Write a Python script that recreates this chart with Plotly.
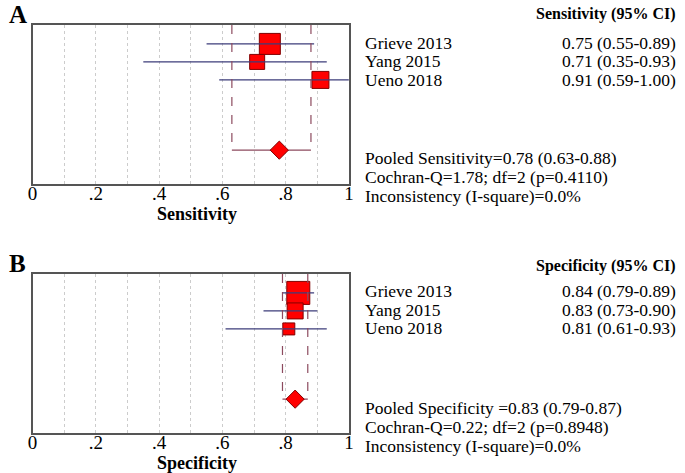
import plotly.graph_objects as go

W, H = 685, 473

studies = ["Grieve 2013", "Yang 2015", "Ueno 2018"]
rows = [1, 2, 3]
pooled_row = 6.9

sens = [0.75, 0.71, 0.91]
sens_lo = [0.55, 0.35, 0.59]
sens_hi = [0.89, 0.93, 1.00]
sens_size = [21, 15, 17]
sens_pool = [0.78, 0.63, 0.88]
sens_txt = ["0.75 (0.55-0.89)", "0.71 (0.35-0.93)", "0.91 (0.59-1.00)"]
sens_stats = ["Pooled Sensitivity=0.78 (0.63-0.88)",
              "Cochran-Q=1.78; df=2 (p=0.4110)",
              "Inconsistency (I-square)=0.0%"]

spec = [0.84, 0.83, 0.81]
spec_lo = [0.79, 0.73, 0.61]
spec_hi = [0.89, 0.90, 0.93]
spec_size = [23, 16, 12]
spec_pool = [0.83, 0.79, 0.87]
spec_txt = ["0.84 (0.79-0.89)", "0.83 (0.73-0.90)", "0.81 (0.61-0.93)"]
spec_stats = ["Pooled Specificity =0.83 (0.79-0.87)",
              "Cochran-Q=0.22; df=2 (p=0.8948)",
              "Inconsistency (I-square)=0.0%"]

tick_vals = [0, 0.2, 0.4, 0.6, 0.8, 1]
tick_text = ["0", ".2", ".4", ".6", ".8", "1"]

FONT = "Liberation Serif"
RED = "#ff0000"
EDGE = "#800000"
NAVY = "#3d3d7a"
POOL = "#8c4a5e"
YTOP = -0.05
YBOT = 8.78

fig = go.Figure()

def px_x(p):
    return p / W

def px_y(p):
    return 1 - p / H

def panel(xa, ya, est, lo, hi, size, pool):
    fig.add_trace(go.Scatter(x=est, y=rows, mode="markers", xaxis=xa, yaxis=ya,
                             marker=dict(symbol="square", size=size, color=RED, opacity=1,
                                         line=dict(color=EDGE, width=1)),
                             showlegend=False, hoverinfo="skip"))
    for i in range(len(est)):
        fig.add_trace(go.Scatter(x=[lo[i], hi[i]], y=[rows[i], rows[i]], mode="lines",
                                 xaxis=xa, yaxis=ya, line=dict(color=NAVY, width=1.3),
                                 showlegend=False, hoverinfo="skip"))
    fig.add_trace(go.Scatter(x=[pool[1], pool[1], None, pool[2], pool[2]],
                             y=[YTOP, pooled_row, None, YTOP, pooled_row], mode="lines",
                             xaxis=xa, yaxis=ya,
                             line=dict(color=POOL, width=1.2, dash="dash"),
                             showlegend=False, hoverinfo="skip"))
    fig.add_trace(go.Scatter(x=[pool[1], pool[2]], y=[pooled_row, pooled_row], mode="lines",
                             xaxis=xa, yaxis=ya, line=dict(color=POOL, width=1.2),
                             showlegend=False, hoverinfo="skip"))
    fig.add_trace(go.Scatter(x=[pool[0]], y=[pooled_row], mode="markers", xaxis=xa, yaxis=ya,
                             marker=dict(symbol="diamond", size=14, color=RED, opacity=1,
                                         line=dict(color=EDGE, width=1)),
                             showlegend=False, hoverinfo="skip"))

panel("x", "y", sens, sens_lo, sens_hi, sens_size, sens_pool)
panel("x2", "y2", spec, spec_lo, spec_hi, spec_size, spec_pool)

xdom = [px_x(28), px_x(349)]

def xaxis(anchor):
    return dict(domain=xdom, range=[0, 1], anchor=anchor, tickvals=tick_vals, ticktext=tick_text,
                showgrid=True, griddash="dot", gridcolor="#cccccc", gridwidth=1,
                minor=dict(dtick=0.1, tick0=0, showgrid=True, griddash="dot",
                           gridcolor="#cccccc", gridwidth=1),
                showline=True, mirror=True, linecolor="#555555", linewidth=1.5,
                ticks="", zeroline=False, ticklabelstandoff=-9,
                tickfont=dict(family=FONT, size=19, color="black"))

def yaxis(anchor, top, bot):
    return dict(domain=[px_y(bot), px_y(top)], range=[YBOT, YTOP], anchor=anchor,
                showgrid=False, showticklabels=False, ticks="", zeroline=False,
                showline=True, mirror=True, linecolor="#555555", linewidth=1.5)

fig.update_layout(
    width=W, height=H, margin=dict(l=0, r=0, t=0, b=0),
    paper_bgcolor="white", plot_bgcolor="white",
    xaxis=xaxis("y"), yaxis=yaxis("x", 25, 184),
    xaxis2=xaxis("y2"), yaxis2=yaxis("x2", 274, 433),
    showlegend=False,
)

ann = []

def text(x, y, s, size=17, bold=False, anchor="left"):
    ann.append(dict(x=px_x(x), y=px_y(y), xref="paper", yref="paper", text=("<b>%s</b>" % s) if bold else s,
                    showarrow=False, xanchor=anchor, yanchor="middle",
                    font=dict(family=FONT, size=size, color="black")))

def right_block(top_hdr, row_px, stat_px, hdr, vals, stats):
    text(683, top_hdr, hdr, size=16, bold=True, anchor="right")
    for i, s in enumerate(studies):
        text(363, row_px[i], s, size=17.5)
        text(683, row_px[i], vals[i], size=17.5, anchor="right")
    for i, s in enumerate(stats):
        text(363, stat_px[i], s, size=17.5)

right_block(14, [43, 61, 80], [158, 177, 196], "Sensitivity (95% CI)", sens_txt, sens_stats)
right_block(266, [291, 310, 328], [408, 427, 446], "Specificity (95% CI)", spec_txt, spec_stats)

text(195, 214, "Sensitivity", size=18, bold=True, anchor="center")
text(195, 463, "Specificity", size=18, bold=True, anchor="center")
text(2, 14, "A", size=25, bold=True)
text(2, 263, "B", size=25, bold=True)

fig.update_layout(annotations=ann)
fig.write_html("out.html", config={"displayModeBar": False},
               post_script="document.body.style.margin='0px';document.body.style.padding='0px';")
